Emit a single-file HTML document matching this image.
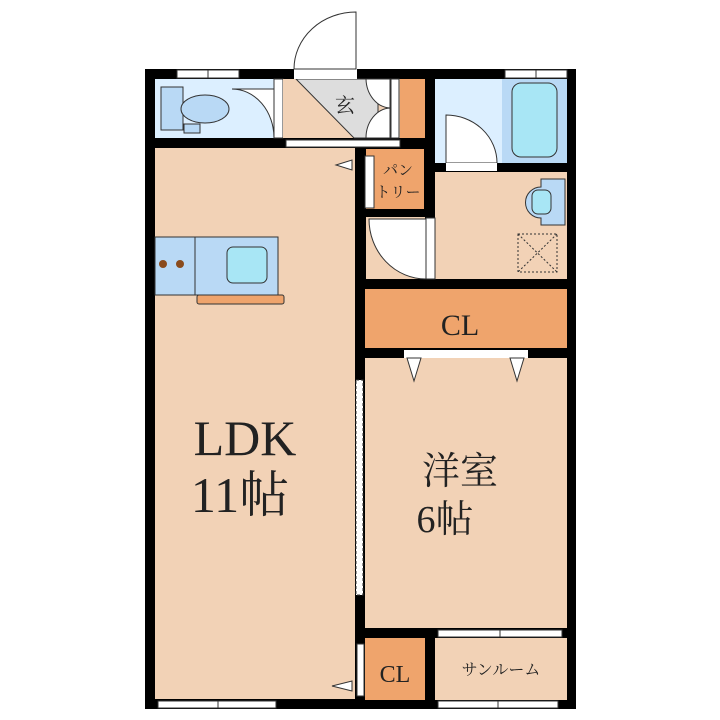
<!DOCTYPE html>
<html><head><meta charset="utf-8"><style>
body{margin:0;background:#fff;width:720px;height:720px;overflow:hidden}
svg{display:block}
text{font-family:"Liberation Serif","Noto Serif CJK SC",serif;fill:#222}
</style></head><body>
<svg width="720" height="720" viewBox="0 0 720 720">
<rect x="145" y="69" width="431" height="640" fill="#000"/>
<rect x="155" y="148" width="200" height="551" fill="#f2d2b6"/>
<!-- toilet -->
<rect x="155" y="79" width="119" height="59" fill="#dcefff"/>
<rect x="161" y="87" width="22" height="43" fill="#b9d9f5" stroke="#333" stroke-width="1"/>
<ellipse cx="205" cy="109" rx="24" ry="14" fill="#b9d9f5" stroke="#333" stroke-width="1"/>
<rect x="184" y="124" width="16" height="9" fill="#b9d9f5" stroke="#333" stroke-width="1"/>
<path d="M232 89 L274 89 L274 138 A42 49 0 0 0 232 89Z" fill="#fff" stroke="#333" stroke-width="1"/>
<rect x="274" y="79" width="9" height="59" fill="#fff" stroke="#333" stroke-width="1"/>
<!-- entrance -->
<rect x="283" y="79" width="117" height="59" fill="#f2d2b6"/>
<path d="M296 79 L378 79 L378 138 L354 138Z" fill="#ddd" stroke="#333" stroke-width="1"/>
<path d="M366 79 L390 79 L390 138 L366 138 A25 30 0 0 1 390 108 A25 30 0 0 1 366 79Z" fill="#fff" stroke="#333" stroke-width="1"/>
<rect x="391" y="79" width="8" height="59" fill="#fff" stroke="#333" stroke-width="1"/>
<rect x="400" y="79" width="25" height="59" fill="#efa46c"/>
<text x="345" y="112" font-size="20" text-anchor="middle">玄</text>
<rect x="286" y="140" width="114" height="7" fill="#fff" stroke="#333" stroke-width="1"/>
<!-- front door -->
<rect x="294" y="69" width="63" height="10" fill="#fff"/>
<path d="M356 12 L356 69 L294 69 A62 57 0 0 1 356 12Z" fill="#fff" stroke="#333" stroke-width="1"/>
<!-- top windows -->
<rect x="177" y="70" width="62" height="8" fill="#fff" stroke="#333" stroke-width="1"/>
<line x1="208" y1="70" x2="208" y2="78" stroke="#333"/>
<rect x="505" y="70" width="62" height="8" fill="#fff" stroke="#333" stroke-width="1"/>
<line x1="536" y1="70" x2="536" y2="78" stroke="#333"/>
<!-- pantry -->
<rect x="366" y="149" width="58" height="60" fill="#efa46c"/>
<rect x="365" y="156" width="9" height="52" fill="#fff" stroke="#333" stroke-width="1"/>
<path d="M336 165 L352 160 L352 170Z" fill="#fff" stroke="#333" stroke-width="1"/>
<text x="398" y="175" font-size="15" text-anchor="middle">パン</text>
<text x="398" y="197" font-size="15" text-anchor="middle">トリー</text>
<!-- bath/wash -->
<rect x="435" y="79" width="132" height="84" fill="#dcefff"/>
<rect x="502" y="79" width="65" height="84" fill="#b9d9f5"/>
<rect x="512" y="83" width="45" height="74" rx="9" fill="#a8e6f5" stroke="#333" stroke-width="1"/>
<path d="M446 115 A51 48 0 0 1 497 163 L446 163Z" fill="#fff" stroke="#333" stroke-width="1"/>
<rect x="446" y="163" width="51" height="8" fill="#fff"/>
<rect x="435" y="172" width="132" height="107" fill="#f2d2b6"/>
<path d="M541 179 L565 179 L565 225 L541 225 L541 218 A14 14 0 0 1 541 187Z" fill="#b9d9f5" stroke="#333" stroke-width="1"/>
<rect x="532" y="190" width="19" height="24" rx="6" fill="#a8e6f5" stroke="#333" stroke-width="1"/>
<rect x="518" y="234" width="39" height="38" fill="none" stroke="#333" stroke-dasharray="2 2"/>
<path d="M518 234 L557 272 M557 234 L518 272" stroke="#333" stroke-dasharray="2 2"/>
<!-- door below pantry -->
<rect x="366" y="217" width="59" height="62" fill="#f2d2b6"/>
<path d="M369 219 L426 219 L426 279 A57 60 0 0 1 369 219Z" fill="#fff" stroke="#333" stroke-width="1"/>
<rect x="426" y="218" width="9" height="61" fill="#fff" stroke="#333" stroke-width="1"/>
<!-- kitchen -->
<rect x="155" y="237" width="123" height="58" fill="#b9d9f5" stroke="#333" stroke-width="1"/>
<line x1="195" y1="237" x2="195" y2="295" stroke="#333"/>
<circle cx="163" cy="264" r="4" fill="#8a4b1c"/><circle cx="180" cy="264" r="4" fill="#8a4b1c"/>
<rect x="227" y="247" width="40" height="36" rx="6" fill="#a8e6f5" stroke="#333" stroke-width="1"/>
<rect x="197" y="295" width="87" height="9" rx="2" fill="#efa46c" stroke="#333" stroke-width="1"/>
<!-- CL big -->
<rect x="365" y="289" width="202" height="59" fill="#efa46c"/>
<text x="460" y="335" font-size="30" text-anchor="middle">CL</text>
<!-- western -->
<rect x="365" y="358" width="202" height="270" fill="#f2d2b6"/>
<rect x="404" y="350" width="124" height="8" fill="#fff"/>
<path d="M407 358 L421 358 L414 381Z" fill="#fff" stroke="#333" stroke-width="1"/>
<path d="M510 358 L524 358 L517 381Z" fill="#fff" stroke="#333" stroke-width="1"/>
<rect x="356" y="380" width="7" height="215" fill="#fff" stroke="#333" stroke-width="1" stroke-dasharray="3 2"/>
<text x="460" y="484" font-size="38" text-anchor="middle">洋室</text>
<text x="445" y="532" font-size="38" text-anchor="middle">6帖</text>
<text x="245" y="455" font-size="50" text-anchor="middle">LDK</text>
<text x="240" y="512" font-size="50" text-anchor="middle">11帖</text>
<!-- bottom -->
<rect x="365" y="638" width="60" height="62" fill="#efa46c"/>
<text x="395" y="682" font-size="24" text-anchor="middle">CL</text>
<rect x="357" y="644" width="7" height="52" fill="#fff" stroke="#333" stroke-width="1"/>
<path d="M332 686 L352 681 L352 691Z" fill="#fff" stroke="#333" stroke-width="1"/>
<rect x="435" y="638" width="132" height="62" fill="#f2d2b6"/>
<text x="501" y="675" font-size="16" text-anchor="middle">サンルーム</text>
<rect x="438" y="630" width="124" height="7" fill="#fff" stroke="#333" stroke-width="1"/>
<line x1="500" y1="630" x2="500" y2="637" stroke="#333"/>
<rect x="438" y="701" width="120" height="7" fill="#fff" stroke="#333" stroke-width="1"/>
<line x1="498" y1="701" x2="498" y2="708" stroke="#333"/>
<rect x="158" y="701" width="118" height="7" fill="#fff" stroke="#333" stroke-width="1"/>
<line x1="218" y1="701" x2="218" y2="708" stroke="#333"/>
</svg>
</body></html>
